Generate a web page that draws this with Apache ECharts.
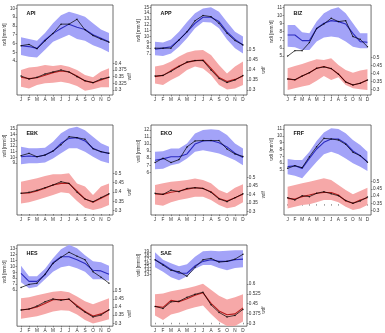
<!DOCTYPE html>
<html><head><meta charset="utf-8">
<script src="https://cdn.jsdelivr.net/npm/echarts@6/dist/echarts.min.js"></script>
<style>html,body{margin:0;padding:0;background:#fff}#c{width:385px;height:333px}</style>
</head><body><div id="c"></div>
<script>
// ---------------- data ----------------
const months = ['J','F','M','A','M','J','J','A','S','O','N','D'];
const monthIdx = ['1','2','3','4','5','6','7','8','9','10','11','12'];

const API_wdi_hi  = [6.7,6.5,6.3,7.2,8.3,9.2,9.6,9.35,9.05,8.3,7.6,7.2];
const API_wdi_lo  = [4.7,4.5,4.4,5.3,6.2,6.6,7.0,6.5,6.3,5.8,5.45,5.0];
const API_wdi_mod = [5.75,5.65,5.45,6.4,7.15,7.7,8.2,7.85,7.6,7.0,6.6,6.2];
const API_wdi_obs = [5.75,5.9,5.4,6.3,7.15,8.2,8.2,8.75,7.55,6.9,6.5,6.15];
const API_wdf_hi  = [0.375,0.384,0.3875,0.394,0.39,0.394,0.3875,0.375,0.356,0.3475,0.369,0.381];
const API_wdf_lo  = [0.3125,0.306,0.319,0.325,0.3275,0.331,0.325,0.315,0.2975,0.3025,0.31,0.31];
const API_wdf_mod = [0.3475,0.3425,0.346,0.355,0.365,0.371,0.3675,0.3525,0.334,0.3275,0.3375,0.3475];
const API_wdf_obs = [0.3525,0.341,0.3475,0.36,0.3675,0.375,0.3675,0.35,0.335,0.3275,0.341,0.3475];
const API_wdi_ticks = [4,5,6,7,8,9,10];
const API_wdf_ticks = [0.3,0.325,0.35,0.375,0.4];

const APP_wdi_hi  = [9.1,8.95,9.5,10.8,12.5,14.0,14.8,15.0,14.25,12.5,10.8,10.0];
const APP_wdi_lo  = [6.8,6.65,7.1,8.25,9.7,11.4,12.5,12.4,11.4,9.5,8.0,7.1];
const APP_wdi_mod = [7.8,8.0,8.25,9.4,10.8,12.25,13.3,13.3,12.55,10.8,9.5,8.55];
const APP_wdi_obs = [8.0,8.0,8.0,9.4,10.8,12.7,13.6,13.4,12.25,10.55,9.3,8.55];
const APP_wdf_hi  = [0.417,0.425,0.442,0.467,0.487,0.497,0.5,0.475,0.425,0.383,0.417,0.442];
const APP_wdf_lo  = [0.333,0.325,0.35,0.37,0.4,0.417,0.408,0.375,0.325,0.303,0.308,0.325];
const APP_wdf_mod = [0.367,0.373,0.397,0.42,0.438,0.447,0.45,0.408,0.363,0.342,0.353,0.37];
const APP_wdf_obs = [0.37,0.373,0.393,0.417,0.44,0.447,0.447,0.4,0.358,0.337,0.35,0.373];
const APP_wdi_ticks = [7,8,9,10,11,12,13,14,15];
const APP_wdf_ticks = [0.3,0.35,0.4,0.45,0.5];

const BIZ_wdi_hi  = [8.83,8.83,7.93,7.8,9.24,10.26,10.75,11.0,10.26,9.03,7.8,7.8];
const BIZ_wdi_lo  = [6.16,6.08,5.75,5.75,6.78,7.3,7.4,7.3,6.78,6.16,5.96,5.96];
const BIZ_wdi_mod = [7.6,7.6,6.9,6.9,8.4,9.03,9.36,9.24,8.95,7.8,6.78,6.7];
const BIZ_wdi_obs = [5.0,5.67,5.67,6.66,8.4,8.95,9.65,9.24,9.36,7.4,7.06,6.16];
const BIZ_wdf_hi  = [0.431,0.446,0.458,0.473,0.4875,0.483,0.494,0.452,0.421,0.404,0.417,0.425];
const BIZ_wdf_lo  = [0.296,0.306,0.317,0.327,0.354,0.383,0.358,0.375,0.327,0.306,0.3,0.296];
const BIZ_wdf_mod = [0.365,0.358,0.383,0.404,0.431,0.442,0.429,0.396,0.346,0.327,0.3375,0.358];
const BIZ_wdf_obs = [0.365,0.36,0.383,0.404,0.431,0.44,0.43,0.394,0.346,0.327,0.338,0.358];
const BIZ_wdi_ticks = [5,6,7,8,9,10,11];
const BIZ_wdf_ticks = [0.3,0.35,0.4,0.45,0.5];

const EBK_wdi_hi  = [11.88,11.6,11.6,11.7,12.76,14.24,15.1,15.4,14.8,13.65,12.47,11.88];
const EBK_wdi_lo  = [8.76,8.94,8.94,9.1,9.8,10.7,11.6,11.6,11.0,10.1,9.35,8.94];
const EBK_wdi_mod = [10.1,10.24,10.1,10.4,11.1,12.47,13.35,13.47,12.9,11.6,11.0,10.7];
const EBK_wdi_obs = [10.3,10.7,10.1,10.4,11.1,12.2,13.65,13.47,13.2,11.5,11.0,10.7];
const EBK_wdf_hi  = [0.455,0.464,0.473,0.486,0.495,0.495,0.5,0.446,0.429,0.384,0.429,0.446];
const EBK_wdf_lo  = [0.339,0.345,0.357,0.37,0.384,0.398,0.393,0.352,0.316,0.304,0.3125,0.33];
const EBK_wdf_mod = [0.393,0.395,0.405,0.42,0.4375,0.446,0.446,0.405,0.3625,0.345,0.366,0.3875];
const EBK_wdf_obs = [0.393,0.398,0.409,0.423,0.4375,0.455,0.446,0.398,0.3625,0.348,0.37,0.391];
const EBK_wdi_ticks = [9,10,11,12,13,14,15];
const EBK_wdf_ticks = [0.3,0.35,0.4,0.45,0.5];

const EKO_wdi_hi  = [8.9,9.0,9.38,9.38,10.1,11.5,12.0,12.1,12.0,11.3,10.1,9.38];
const EKO_wdi_lo  = [6.43,6.52,7.0,7.24,7.95,8.9,9.14,8.9,8.67,8.2,7.7,7.0];
const EKO_wdi_mod = [7.7,7.9,8.2,8.2,8.6,10.0,10.45,10.5,10.2,9.6,8.7,8.1];
const EKO_wdi_obs = [7.38,8.0,7.38,7.8,9.6,10.45,10.5,10.5,10.5,9.3,8.6,8.25];
const EKO_wdf_hi  = [0.457,0.467,0.476,0.48,0.486,0.496,0.486,0.467,0.427,0.408,0.441,0.461];
const EKO_wdf_lo  = [0.343,0.335,0.355,0.369,0.378,0.388,0.388,0.369,0.339,0.32,0.329,0.355];
const EKO_wdf_mod = [0.404,0.402,0.414,0.422,0.433,0.441,0.437,0.418,0.378,0.363,0.382,0.402];
const EKO_wdf_obs = [0.408,0.402,0.427,0.418,0.437,0.441,0.437,0.414,0.375,0.359,0.382,0.406];
const EKO_wdi_ticks = [6,7,8,9,10,11,12];
const EKO_wdf_ticks = [0.3,0.35,0.4,0.45,0.5];

const FRF_wdi_hi  = [6.6,6.46,6.46,7.68,9.24,10.5,11.1,11.0,10.37,9.4,8.66,7.68];
const FRF_wdi_lo  = [4.37,4.17,3.78,5.0,6.22,7.3,7.68,7.3,6.7,5.98,5.49,4.85];
const FRF_wdi_mod = [5.49,5.63,5.24,6.7,8.07,9.05,9.54,9.54,8.9,7.78,7.1,6.22];
const FRF_wdi_obs = [5.24,5.63,5.34,6.95,8.41,9.63,9.54,9.39,8.76,7.59,7.1,6.12];
const FRF_wdf_hi  = [0.466,0.477,0.489,0.5,0.512,0.523,0.512,0.477,0.443,0.413,0.436,0.459];
const FRF_wdf_lo  = [0.316,0.328,0.339,0.344,0.358,0.374,0.374,0.358,0.328,0.305,0.316,0.339];
const FRF_wdf_mod = [0.385,0.38,0.397,0.408,0.42,0.426,0.426,0.408,0.367,0.351,0.374,0.39];
const FRF_wdf_obs = [0.39,0.374,0.403,0.397,0.42,0.431,0.417,0.403,0.371,0.351,0.367,0.394];
const FRF_wdi_ticks = [5,6,7,8,9,10,11];
const FRF_wdf_ticks = [0.3,0.35,0.4,0.45,0.5];

const HES_wdi_hi  = [10.08,8.32,8.32,9.58,11.34,12.85,13.6,13.0,11.84,10.83,10.68,10.08];
const HES_wdi_lo  = [7.31,6.3,6.55,7.81,9.07,9.83,10.08,9.68,9.07,7.81,7.81,7.56];
const HES_wdi_mod = [8.82,7.46,7.46,8.57,10.58,11.59,11.59,11.09,10.48,9.32,9.22,8.67];
const HES_wdi_obs = [6.45,6.96,7.16,8.67,10.48,11.49,12.35,11.69,11.09,9.07,8.17,7.16];
const HES_wdf_hi  = [0.455,0.461,0.474,0.485,0.496,0.5,0.4925,0.466,0.436,0.418,0.436,0.455];
const HES_wdf_lo  = [0.328,0.3355,0.343,0.358,0.373,0.38,0.377,0.354,0.3206,0.298,0.311,0.3243];
const HES_wdf_mod = [0.382,0.388,0.401,0.423,0.446,0.4477,0.4477,0.41,0.373,0.345,0.358,0.382];
const HES_wdf_obs = [0.382,0.388,0.4065,0.433,0.451,0.442,0.451,0.403,0.369,0.339,0.3505,0.384];
const HES_wdi_ticks = [6,7,8,9,10,11,12,13];
const HES_wdf_ticks = [0.3,0.35,0.4,0.45,0.5];

const SAE_wdi_hi  = [18.95,16.94,15.97,15.16,15.73,17.74,19.2,19.35,19.2,19.35,19.5,19.5];
const SAE_wdi_lo  = [14.9,13.7,12.26,11.45,12.5,14.5,15.5,15.5,14.7,14.1,14.7,14.9];
const SAE_wdi_mod = [16.94,15.73,14.35,13.3,13.3,15.3,16.5,16.94,16.5,16.5,16.94,17.1];
const SAE_wdi_obs = [16.94,15.5,14.1,13.7,12.5,14.9,16.94,17.3,16.3,16.5,17.1,18.4];
const SAE_wdf_hi  = [0.5215,0.5284,0.5446,0.5561,0.5677,0.5838,0.602,0.5561,0.51,0.4822,0.4984,0.5215];
const SAE_wdf_lo  = [0.36,0.325,0.3667,0.383,0.406,0.4222,0.436,0.3714,0.3136,0.279,0.279,0.3136];
const SAE_wdf_mod = [0.429,0.422,0.4753,0.4637,0.4868,0.5145,0.533,0.4522,0.3945,0.3644,0.3714,0.4176];
const SAE_wdf_obs = [0.429,0.413,0.4637,0.4684,0.4984,0.5215,0.5376,0.4406,0.383,0.3483,0.36,0.406];
const SAE_wdi_ticks = [12,13,14,15,16,17,18,19,20];
const SAE_wdf_ticks = [0.3,0.375,0.45,0.525,0.6];

// ---------------- layout ----------------
const BOX_W = 96, BOX_H = 90;
const COLS = [17, 151, 284], ROWS = [5, 125, 245];
const panels = [
  {name:'API', c:0, r:0, lp:[8.3,61.1],  rp:[63.3,90],
   wdi:[API_wdi_hi,API_wdi_lo,API_wdi_mod,API_wdi_obs], wdf:[API_wdf_hi,API_wdf_lo,API_wdf_mod,API_wdf_obs], lt:API_wdi_ticks, rt:API_wdf_ticks},
  {name:'APP', c:1, r:0, lp:[7.3,54],    rp:[50,90],
   wdi:[APP_wdi_hi,APP_wdi_lo,APP_wdi_mod,APP_wdi_obs], wdf:[APP_wdf_hi,APP_wdf_lo,APP_wdf_mod,APP_wdf_obs], lt:APP_wdi_ticks, rt:APP_wdf_ticks},
  {name:'BIZ', c:2, r:0, lp:[7.3,56.1],  rp:[57.3,89.3],
   wdi:[BIZ_wdi_hi,BIZ_wdi_lo,BIZ_wdi_mod,BIZ_wdi_obs], wdf:[BIZ_wdf_hi,BIZ_wdf_lo,BIZ_wdf_mod,BIZ_wdf_obs], lt:BIZ_wdi_ticks, rt:BIZ_wdf_ticks},
  {name:'EBK', c:0, r:1, lp:[129,163],   rp:[173.3,210.7],
   wdi:[EBK_wdi_hi,EBK_wdi_lo,EBK_wdi_mod,EBK_wdi_obs], wdf:[EBK_wdf_hi,EBK_wdf_lo,EBK_wdf_mod,EBK_wdf_obs], lt:EBK_wdi_ticks, rt:EBK_wdf_ticks},
  {name:'EKO', c:1, r:1, lp:[130,172.3], rp:[177.7,211.7],
   wdi:[EKO_wdi_hi,EKO_wdi_lo,EKO_wdi_mod,EKO_wdi_obs], wdf:[EKO_wdf_hi,EKO_wdf_lo,EKO_wdf_mod,EKO_wdf_obs], lt:EKO_wdi_ticks, rt:EKO_wdf_ticks},
  {name:'FRF', c:2, r:1, lp:[129,170],   rp:[181.7,210.7],
   wdi:[FRF_wdi_hi,FRF_wdi_lo,FRF_wdi_mod,FRF_wdi_obs], wdf:[FRF_wdf_hi,FRF_wdf_lo,FRF_wdf_mod,FRF_wdf_obs], lt:FRF_wdi_ticks, rt:FRF_wdf_ticks},
  {name:'HES', c:0, r:2, lp:[248.7,295], rp:[296,331.7],
   wdi:[HES_wdi_hi,HES_wdi_lo,HES_wdi_mod,HES_wdi_obs], wdf:[HES_wdf_hi,HES_wdf_lo,HES_wdf_mod,HES_wdf_obs], lt:HES_wdi_ticks, rt:HES_wdf_ticks},
  {name:'SAE', c:1, r:2, lp:[248.7,281.7], rp:[288.3,331.7],
   wdi:[SAE_wdi_hi,SAE_wdi_lo,SAE_wdi_mod,SAE_wdi_obs], wdf:[SAE_wdf_hi,SAE_wdf_lo,SAE_wdf_mod,SAE_wdf_obs], lt:SAE_wdi_ticks, rt:SAE_wdf_ticks}
];

const BLUE_BAND = '#a3a3f8', RED_BAND = '#f6a8a8';
const BLUE_LINE = '#2b2bbf', RED_LINE = '#b41c1c';
const FONT = 'Liberation Sans';
const FS = 4.7;

function axisRange(ticks, px, top, bottom) {
  const vh = Math.max(...ticks), vl = Math.min(...ticks);
  const ppu = (px[1] - px[0]) / (vh - vl);
  return {max: vh + (px[0] - top) / ppu, min: vl - (bottom - px[1]) / ppu};
}
const fmt = v => String(+(+v).toFixed(3));

const grid = [], xAxis = [], yAxis = [], series = [], graphic = [];
const yAxisBase = (i, pos, r, ticks) => ({
  gridIndex: i, type: 'value', position: pos, min: r.min, max: r.max,
  axisLine: {show: false}, splitLine: {show: false}, splitArea: {show: false},
  axisTick: {show: true, customValues: ticks, length: 1.5, lineStyle: {color: '#4a4a4a', width: 0.6}},
  axisLabel: {show: true, customValues: ticks, formatter: fmt, fontSize: FS, margin: 1.8,
              color: '#333', fontFamily: FONT}
});
panels.forEach((p, i) => {
  const L = COLS[p.c], T = ROWS[p.r], B = T + BOX_H;
  grid.push({left: L, top: T, width: BOX_W, height: BOX_H, show: true,
             borderColor: '#4a4a4a', borderWidth: 0.8, backgroundColor: 'rgba(0,0,0,0)'});
  xAxis.push({gridIndex: i, type: 'category', data: monthIdx, boundaryGap: true,
    axisLine: {show: false}, splitLine: {show: false},
    axisTick: {show: true, alignWithLabel: true, interval: 0, length: 1.5, lineStyle: {color: '#4a4a4a', width: 0.6}},
    axisLabel: {show: true, interval: 0, formatter: (v, idx) => months[idx],
                fontSize: FS, margin: 1.8, color: '#333', fontFamily: FONT}});
  yAxis.push(yAxisBase(i, 'left', axisRange(p.lt, p.lp, T, B), p.lt));
  yAxis.push(yAxisBase(i, 'right', axisRange(p.rt, p.rp, T, B), p.rt));

  const addGroup = (set, yi, band, line) => {
    const [hi, lo, mod, obs] = set;
    series.push({type: 'custom', xAxisIndex: i, yAxisIndex: yi, silent: true, z: 1,
      data: [[0, lo[0]]],
      renderItem: (params, api) => {
        const pts = [];
        for (let k = 0; k < lo.length; k++) pts.push(api.coord([k, lo[k]]));
        for (let k = hi.length - 1; k >= 0; k--) pts.push(api.coord([k, hi[k]]));
        return {type: 'polygon', shape: {points: pts}, style: {fill: band, stroke: null}};
      }});
    series.push({type: 'line', xAxisIndex: i, yAxisIndex: yi, data: mod.slice(),
      symbol: 'none', lineStyle: {color: line, width: 1.1}, z: 2});
    series.push({type: 'line', xAxisIndex: i, yAxisIndex: yi, data: obs.slice(),
      symbol: 'none', lineStyle: {color: '#000', width: 0.7}, z: 3});
    series.push({type: 'scatter', xAxisIndex: i, yAxisIndex: yi, data: obs.slice(),
      symbol: 'circle', symbolSize: 1.5, itemStyle: {color: '#000'}, silent: true, z: 4});
  };
  addGroup(p.wdi, 2 * i, BLUE_BAND, BLUE_LINE);
  addGroup(p.wdf, 2 * i + 1, RED_BAND, RED_LINE);

  graphic.push({type: 'text', x: L + 9.5, y: T + 6.5, silent: true,
    style: {text: p.name, font: 'bold 5.4px ' + FONT, fill: '#111'}});
  graphic.push({type: 'text', x: L - 12, y: (p.lp[0] + p.lp[1]) / 2, rotation: Math.PI / 2, silent: true,
    style: {text: 'wdi [mm/d]', font: FS + 'px ' + FONT, fill: '#333', align: 'center', verticalAlign: 'middle'}});
  graphic.push({type: 'text', x: L + BOX_W + 17, y: (p.rp[0] + p.rp[1]) / 2, rotation: Math.PI / 2, silent: true,
    style: {text: 'wdf', font: FS + 'px ' + FONT, fill: '#333', align: 'center', verticalAlign: 'middle'}});
});

const chart = echarts.init(document.getElementById('c'), null, {renderer: 'canvas'});
chart.setOption({animation: false, grid, xAxis, yAxis, series, graphic});
</script>
</body></html>
